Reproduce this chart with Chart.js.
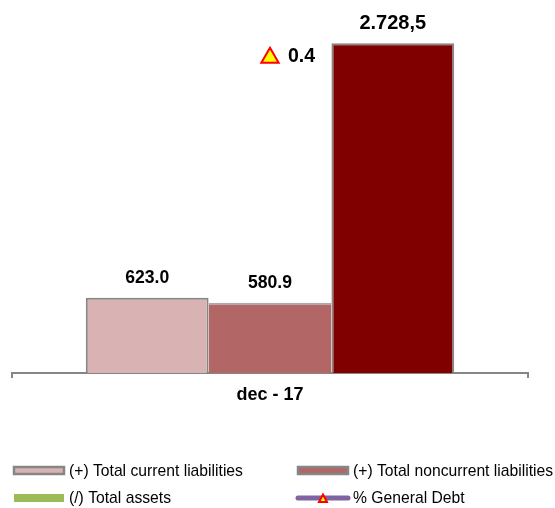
<!DOCTYPE html>
<html>
<head>
<meta charset="utf-8">
<script src="https://cdn.jsdelivr.net/npm/chart.js@4"></script>
<style>
    body { margin: 0; background: #fff; }
    canvas { display: block; }
</style>
</head>
<body>
<canvas id="debtChart" width="555" height="508"></canvas>
<script>
const categories = ['dec - 17'];
const currentLiabilities = [623.0];
const noncurrentLiabilities = [580.9];
const totalAssets = [2728.5];
const generalDebt = [0.4];
const barLabels = ['623.0', '580.9', '2.728,5'];
const debtLabels = ['0.4'];
const seriesNames = ['(+) Total current liabilities', '(+) Total noncurrent liabilities', '(/) Total assets', '% General Debt'];

const FONT = "'Liberation Sans', Arial, sans-serif";
const GREY = '#868686';

// Value labels above the bars and next to the warning triangle
const valueLabels = {
    id: 'valueLabels',
    afterDatasetsDraw(chart) {
        const ctx = chart.ctx;
        ctx.save();
        ctx.fillStyle = '#000';
        ctx.textBaseline = 'middle';
        barLabels.forEach((text, i) => {
            const bar = chart.getDatasetMeta(i).data[0];
            ctx.font = 'bold ' + (i === 2 ? 20 : 17.6) + 'px ' + FONT;
            ctx.textAlign = 'center';
            ctx.fillText(text, bar.x, bar.y - 20);
        });
        const point = chart.getDatasetMeta(3).data[0];
        ctx.font = 'bold 19.5px ' + FONT;
        ctx.textAlign = 'left';
        ctx.fillText(debtLabels[0], point.x + 18, point.y - 1);
        ctx.restore();
    }
};

// Legend in two fixed columns, the Total assets swatch differs from its bar
const sideLegend = {
    id: 'sideLegend',
    afterDraw(chart) {
        const ctx = chart.ctx;
        const cols = [13, 297];
        const rows = [470.5, 498];
        ctx.save();
        ctx.font = '15.7px ' + FONT;
        ctx.textBaseline = 'middle';
        ctx.textAlign = 'left';
        seriesNames.forEach((name, i) => {
            const x = cols[i % 2];
            const y = rows[Math.floor(i / 2)];
            if (i < 2) {
                ctx.fillStyle = chart.data.datasets[i].backgroundColor;
                ctx.strokeStyle = GREY;
                ctx.lineWidth = 2.5;
                ctx.fillRect(x + 1, y - 3.5, 50, 7);
                ctx.strokeRect(x + 1, y - 3.5, 50, 7);
            } else if (i === 2) {
                ctx.fillStyle = '#9bbb59';
                ctx.fillRect(x + 1, y - 4, 50, 8);
            } else {
                ctx.strokeStyle = '#8064a2';
                ctx.lineWidth = 5;
                ctx.lineCap = 'round';
                ctx.beginPath();
                ctx.moveTo(x + 1, y);
                ctx.lineTo(x + 51, y);
                ctx.stroke();
                ctx.fillStyle = '#ffff00';
                ctx.strokeStyle = '#ff0000';
                ctx.lineWidth = 2;
                ctx.lineCap = 'butt';
                ctx.beginPath();
                ctx.moveTo(x + 26, y - 3.5);
                ctx.lineTo(x + 30, y + 4);
                ctx.lineTo(x + 22, y + 4);
                ctx.closePath();
                ctx.fill();
                ctx.stroke();
            }
            ctx.fillStyle = '#000';
            ctx.fillText(name, x + 56, y + 1);
        });
        ctx.restore();
    }
};

const barStyle = { type: 'bar', borderColor: GREY, borderWidth: 2, categoryPercentage: 0.714, barPercentage: 1, yAxisID: 'y', order: 2 };

new Chart(document.getElementById('debtChart').getContext('2d'), {
    data: {
        labels: categories,
        datasets: [
            { ...barStyle, label: seriesNames[0], data: currentLiabilities, backgroundColor: '#d9b3b3' },
            // middle bar only has a pale top edge, its sides come from the neighbours
            { ...barStyle, label: seriesNames[1], data: noncurrentLiabilities, backgroundColor: '#b26666', borderColor: '#b0a8a8', borderWidth: { top: 2, left: 0, right: 0, bottom: 0 } },
            { ...barStyle, label: seriesNames[2], data: totalAssets, backgroundColor: '#800000' },
            {
                type: 'line',
                label: seriesNames[3],
                data: generalDebt,
                yAxisID: 'y1',
                order: 1,
                clip: false,
                borderColor: '#8064a2',
                pointStyle: 'triangle',
                pointRadius: 10,
                pointBackgroundColor: '#ffff00',
                pointBorderColor: '#ff0000',
                pointBorderWidth: 2
            }
        ]
    },
    options: {
        responsive: false,
        animation: false,
        layout: { padding: { left: 11, right: 27, top: 10, bottom: 0 } },
        plugins: { legend: { display: false }, tooltip: { enabled: false } },
        scales: {
            x: {
                offset: true,
                afterFit: scale => { scale.height = 135; },
                border: { display: true, color: GREY, width: 2 },
                grid: { display: true, drawOnChartArea: false, drawTicks: true, tickLength: 5, color: GREY, lineWidth: 2, offset: true },
                ticks: { color: '#000', padding: 6, maxRotation: 0, font: { family: FONT, size: 18, weight: 'bold' } }
            },
            y: { display: false, min: 0, max: 2988 },
            y1: { display: false, min: 0, max: 0.4581 }
        }
    },
    plugins: [valueLabels, sideLegend]
});
</script>
</body>
</html>
